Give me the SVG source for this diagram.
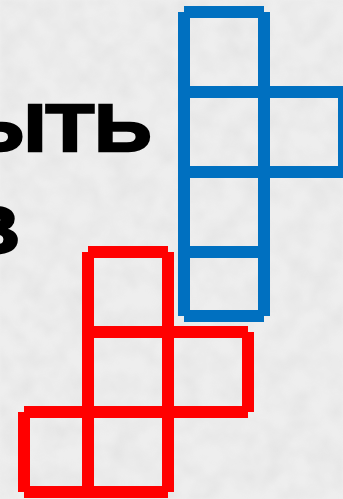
<svg xmlns="http://www.w3.org/2000/svg" width="343" height="499" viewBox="0 0 343 499">
<defs>
<filter id="tex" x="0" y="0" width="100%" height="100%">
<feTurbulence type="fractalNoise" baseFrequency="0.045" numOctaves="3" seed="7" result="n"/>
<feColorMatrix type="matrix" values="0 0 0 0 0.5  0 0 0 0 0.5  0 0 0 0 0.5  0.9 0 0 0 -0.3" />
<feGaussianBlur stdDeviation="1.5"/>
</filter>
<style>
.blue line{stroke:#0070c0;stroke-width:12;stroke-linecap:butt}
.red line{stroke:#ff0000;stroke-width:12;stroke-linecap:butt}
.t{font-family:"Liberation Sans",Arial,sans-serif;font-weight:bold;font-size:66px;fill:#000;stroke:#000;stroke-width:2.5;stroke-linejoin:miter}
</style>
</defs>
<rect width="343" height="499" fill="#eeeeee"/>
<rect width="343" height="499" filter="url(#tex)" opacity="0.35"/>
<g id="text">
<text class="t" transform="translate(46,151) scale(1.2,1)" text-anchor="end">Ы</text>
<text class="t" transform="translate(70,151) scale(1.2,1)" text-anchor="middle">Т</text>
<text class="t" transform="translate(123,151) scale(1.2,1)" text-anchor="middle">Ь</text>
<text class="t" transform="translate(20,253) scale(1.2,1)" text-anchor="end">В</text>
</g>
<g id="blue-figure" class="blue">
<line x1="184" y1="12" x2="184" y2="316"/>
<line x1="264" y1="12" x2="264" y2="316"/>
<line x1="344" y1="92" x2="344" y2="172"/>
<line x1="184" y1="12" x2="264" y2="12"/>
<line x1="184" y1="92" x2="344" y2="92"/>
<line x1="184" y1="172" x2="344" y2="172"/>
<line x1="184" y1="252" x2="264" y2="252"/>
<line x1="184" y1="316" x2="264" y2="316"/>
</g>
<g id="red-figure" class="red">
<line x1="88" y1="252" x2="88" y2="492"/>
<line x1="168" y1="252" x2="168" y2="492"/>
<line x1="248" y1="332" x2="248" y2="412"/>
<line x1="24" y1="412" x2="24" y2="492"/>
<line x1="88" y1="252" x2="168" y2="252"/>
<line x1="88" y1="332" x2="248" y2="332"/>
<line x1="24" y1="412" x2="248" y2="412"/>
<line x1="24" y1="492" x2="168" y2="492"/>
</g>
</svg>
